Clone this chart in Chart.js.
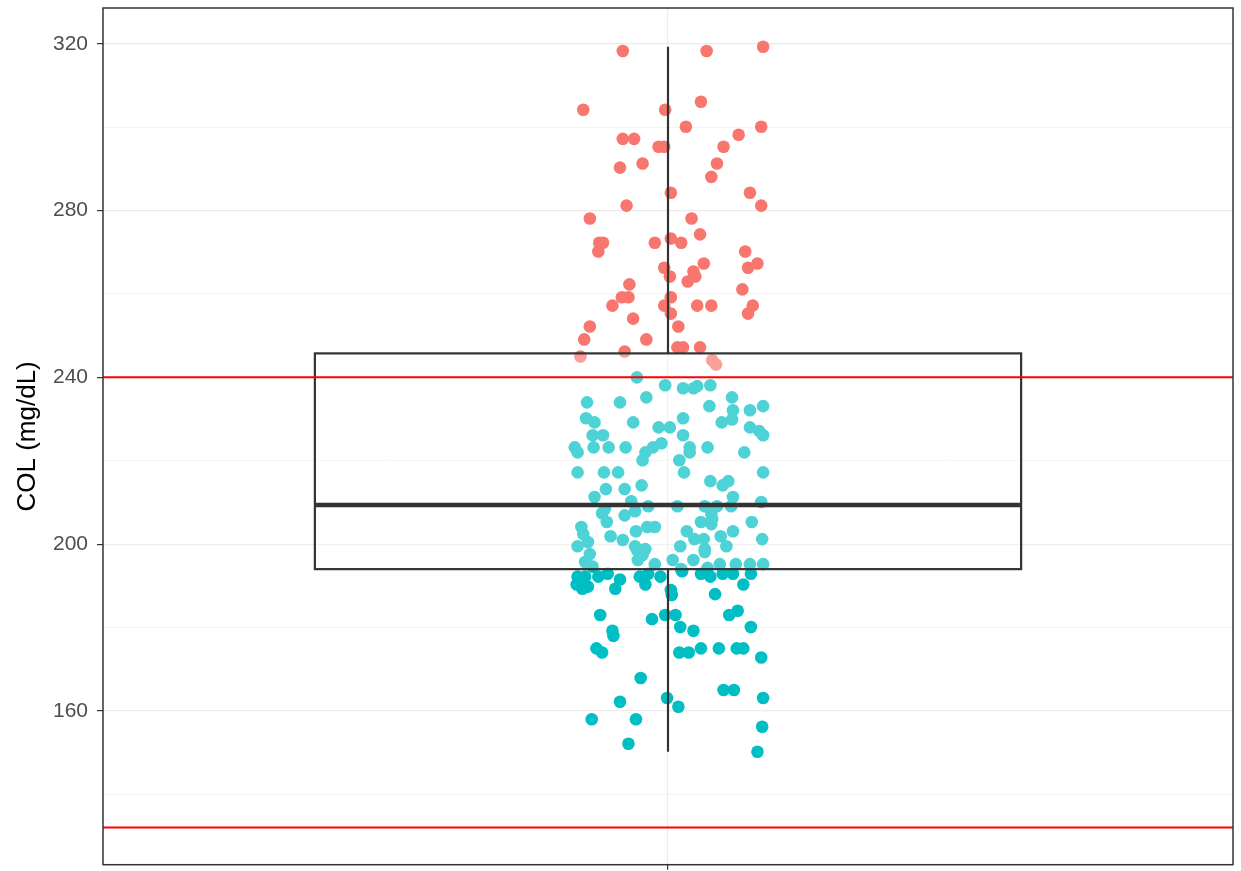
<!DOCTYPE html>
<html>
<head>
<meta charset="utf-8">
<script src="https://cdn.jsdelivr.net/npm/chart.js@4/dist/chart.umd.min.js"></script>
<style>
  html, body { margin: 0; padding: 0; background: #fff; }
  #wrap { width: 1241px; height: 871px; position: relative; }
</style>
</head>
<body>
<div id="wrap"><canvas id="chart"></canvas></div>
<script>
// jitter offset (in category units) and COL value for every point
const jitter = [
  -0.048, 0.041, 0.101, -0.090, -0.003, 0.035, 0.019, 0.099, -0.048, -0.036,
  -0.010, -0.004, 0.059, 0.075, -0.051, -0.027, 0.052, 0.046, 0.003, 0.087,
  -0.044, 0.099, -0.083, 0.025, 0.034, -0.073, -0.069, -0.074, -0.014, 0.003,
  0.014, 0.082, 0.038, 0.095, 0.085, -0.004, 0.027, 0.002, 0.021, 0.029,
  -0.041, -0.049, -0.042, -0.059, 0.003, -0.004, 0.003, 0.031, 0.046, 0.079,
  0.090, 0.085, -0.037, 0.011, -0.083, -0.089, -0.023, 0.010, 0.016, 0.034,
  -0.046, -0.093, 0.047, 0.051,
  // 194 - 240
  -0.033, -0.003, 0.016, 0.027, 0.031, 0.045, -0.023, 0.068, -0.086, -0.051,
  0.044, 0.069, 0.087, 0.101, -0.087, -0.078, -0.037, 0.016, 0.057, 0.068,
  -0.010, 0.002, 0.087, 0.097, 0.101, -0.080, -0.069, 0.016, -0.099, -0.096,
  -0.079, -0.063, -0.045, -0.024, -0.016, -0.007, 0.023, 0.023, 0.042, 0.081,
  -0.027, 0.012, -0.096, -0.068, -0.053, 0.017, 0.101, 0.045, 0.058, 0.064,
  -0.066, -0.046, -0.028, -0.078, 0.069, -0.039, 0.099, -0.070, -0.067, -0.035,
  -0.046, -0.021, -0.065, -0.092, -0.034, -0.022, -0.014, -0.061, -0.048, -0.090,
  -0.085, -0.096, -0.035, -0.024, 0.010, 0.039, 0.052, 0.067, 0.046, 0.035,
  0.046, 0.089, 0.020, 0.069, 0.056, 0.028, 0.038, 0.047, 0.100, 0.013,
  0.039, 0.062, -0.083, -0.088, -0.033, -0.027, -0.032, -0.014, 0.005, 0.027,
  0.039, 0.014, 0.042, 0.055, 0.072, 0.087, 0.101, -0.080,
  // below 194
  -0.096, -0.088, -0.097, -0.085, -0.091, -0.074, -0.064, -0.051, -0.056, -0.030,
  -0.021, -0.024, -0.008, 0.003, 0.004, 0.015, 0.035, 0.045, 0.058, 0.069,
  0.088, 0.080, 0.050, -0.072, -0.017, -0.003, 0.008, 0.065, 0.074, -0.059,
  0.013, 0.027, 0.088, -0.058, -0.076, -0.070, 0.012, 0.022, 0.035, 0.054,
  0.073, 0.080, 0.099, -0.029, 0.059, 0.070, -0.051, -0.001, 0.011, 0.101,
  -0.081, -0.034, 0.100, -0.042, 0.095
];
const colValues = [
  318.3, 318.3, 319.3, 304.2, 304.2, 306.1, 300.1, 300.1, 297.2, 297.2,
  295.3, 295.3, 295.3, 298.2, 290.3, 291.3, 291.3, 288.1, 284.3, 284.3,
  281.2, 281.2, 278.1, 278.1, 274.3, 272.3, 272.3, 270.2, 272.3, 273.3,
  272.3, 270.2, 267.3, 267.3, 266.3, 266.3, 265.4, 264.2, 263.0, 264.2,
  262.3, 259.2, 259.2, 257.2, 259.2, 257.2, 255.3, 257.2, 257.2, 261.1,
  257.2, 255.3, 254.1, 252.2, 252.2, 249.1, 249.1, 247.2, 247.2, 247.2,
  246.2, 245.0, 244.1, 243.1,
  240.0, 238.1, 237.4, 237.4, 237.9, 238.1, 235.2, 235.2, 234.0, 234.0,
  233.1, 232.1, 232.1, 233.1, 230.2, 229.2, 229.2, 230.2, 229.2, 229.9,
  228.0, 228.0, 228.0, 227.1, 226.1, 226.1, 226.1, 226.1, 223.2, 222.0,
  223.2, 223.2, 223.2, 222.0, 223.2, 224.2, 223.2, 222.0, 223.2, 222.0,
  220.1, 220.1, 217.2, 217.2, 217.2, 217.2, 217.2, 215.1, 214.1, 215.1,
  213.2, 213.2, 214.1, 211.3, 211.3, 210.3, 210.1, 207.4, 208.4, 207.9,
  206.9, 209.1, 205.3, 204.1, 203.1, 204.1, 204.1, 201.9, 201.0, 202.4,
  200.5, 199.5, 199.5, 198.8, 209.1, 209.1, 209.1, 209.1, 207.2, 205.3,
  204.8, 205.3, 203.1, 203.1, 201.9, 201.2, 201.2, 206.0, 201.2, 199.5,
  198.8, 199.5, 197.6, 195.7, 198.6, 197.4, 196.2, 195.2, 196.2, 196.2,
  198.1, 194.0, 194.3, 195.2, 195.2, 195.2, 195.2, 194.6,
  192.2, 192.2, 190.3, 189.8, 189.3, 192.2, 192.9, 191.5, 189.3, 192.2,
  192.9, 190.3, 192.2, 189.0, 187.8, 193.5, 192.9, 192.2, 192.9, 192.9,
  192.9, 190.3, 188.0, 183.0, 182.0, 183.0, 183.0, 183.0, 184.0, 179.2,
  180.1, 179.2, 180.1, 178.0, 175.0, 174.0, 174.0, 174.0, 175.0, 175.0,
  175.0, 175.0, 172.8, 167.9, 165.0, 165.0, 162.2, 163.1, 161.0, 163.1,
  158.0, 158.0, 156.2, 152.1, 150.2
];
const highCutoff = 240;

// box plot statistics
const boxLower = 150.2, boxQ1 = 194.0, boxMedian = 209.4, boxQ3 = 245.75, boxUpper = 319.3;
const boxCenter = 1, boxWidth = 0.75;

// horizontal reference lines
const refLines = [240, 132];

// axes
const yMin = 123.1, yMax = 328.6;
const yTicks = [140, 160, 180, 200, 220, 240, 260, 280, 300, 320];
const yLabeled = [160, 200, 240, 280, 320];

const high = [], normal = [];
colValues.forEach((v, i) => {
  const p = { x: boxCenter + jitter[i], y: v };
  (v > highCutoff ? high : normal).push(p);
});

const FONT = '"Liberation Sans", Arial, Helvetica, sans-serif';

// draw box, whiskers and reference lines above the points (ggplot layer order)
const boxPlugin = {
  id: 'boxLayer',
  afterDatasetsDraw(chart) {
    const { ctx, chartArea: a } = chart;
    const xs = chart.scales.x, ys = chart.scales.y;
    const xl = xs.getPixelForValue(boxCenter - boxWidth / 2);
    const xr = xs.getPixelForValue(boxCenter + boxWidth / 2);
    const xc = xs.getPixelForValue(boxCenter);
    const yq1 = ys.getPixelForValue(boxQ1), yq3 = ys.getPixelForValue(boxQ3);
    ctx.save();
    ctx.beginPath();
    ctx.rect(a.left, a.top, a.right - a.left, a.bottom - a.top);
    ctx.clip();
    ctx.strokeStyle = '#333333';
    ctx.lineWidth = 2.2;
    // whiskers
    ctx.beginPath();
    ctx.moveTo(xc, ys.getPixelForValue(boxUpper)); ctx.lineTo(xc, yq3);
    ctx.moveTo(xc, yq1); ctx.lineTo(xc, ys.getPixelForValue(boxLower));
    ctx.stroke();
    // box
    ctx.fillStyle = 'rgba(255,255,255,0.3)';
    ctx.fillRect(xl, yq3, xr - xl, yq1 - yq3);
    ctx.strokeRect(xl, yq3, xr - xl, yq1 - yq3);
    // median
    ctx.lineWidth = 4.5;
    ctx.beginPath();
    const ym = ys.getPixelForValue(boxMedian);
    ctx.moveTo(xl, ym); ctx.lineTo(xr, ym);
    ctx.stroke();
    // reference lines
    ctx.strokeStyle = '#FF0000';
    ctx.lineWidth = 2;
    refLines.forEach(v => {
      const y = ys.getPixelForValue(v);
      ctx.beginPath(); ctx.moveTo(a.left, y); ctx.lineTo(a.right, y); ctx.stroke();
    });
    ctx.restore();
  },
  afterDraw(chart) {
    const { ctx, chartArea: a } = chart;
    ctx.save();
    ctx.strokeStyle = '#333333';
    ctx.lineWidth = 1.5;
    ctx.strokeRect(a.left, a.top, a.right - a.left, a.bottom - a.top);
    ctx.restore();
  }
};

new Chart(document.getElementById('chart'), {
  type: 'scatter',
  data: {
    datasets: [
      { data: high, backgroundColor: '#F8766D', borderWidth: 0, pointRadius: 6.3, pointHoverRadius: 6.3 },
      { data: normal, backgroundColor: '#00BFC4', borderWidth: 0, pointRadius: 6.3, pointHoverRadius: 6.3 }
    ]
  },
  options: {
    responsive: true,
    maintainAspectRatio: false,
    devicePixelRatio: 1,
    animation: false,
    layout: { padding: { top: 8, right: 8, left: 0, bottom: 0 } },
    plugins: { legend: { display: false }, tooltip: { enabled: false } },
    scales: {
      x: {
        type: 'linear', min: 0.4, max: 1.6,
        afterBuildTicks: s => { s.ticks = [{ value: boxCenter }]; },
        afterFit: s => { s.height = 5; s.paddingLeft = 0; s.paddingRight = 0; },
        border: { display: false },
        grid: { color: '#EBEBEB', lineWidth: 1.2, tickColor: '#333333', tickLength: 5, tickWidth: 1.2 },
        ticks: { callback: () => '', padding: 0, font: { size: 1 } }
      },
      y: {
        min: yMin, max: yMax,
        afterBuildTicks: s => { s.ticks = yTicks.map(v => ({ value: v })); },
        afterFit: s => { s.width = 103; s.paddingTop = 0; s.paddingBottom = 0; },
        border: { display: false },
        grid: {
          color: '#EBEBEB',
          lineWidth: c => yLabeled.includes(c.tick.value) ? 1.2 : 0.6,
          tickColor: c => yLabeled.includes(c.tick.value) ? '#333333' : 'rgba(0,0,0,0)',
          tickLength: 6, tickWidth: 1.2
        },
        ticks: {
          autoSkip: false,
          callback: v => yLabeled.includes(v) ? String(v) : '',
          color: '#4D4D4D', padding: 9,
          font: { family: FONT, size: 21 }
        },
        title: {
          display: true, text: 'COL (mg/dL)', color: '#000000',
          font: { family: FONT, size: 26 },
          padding: { top: 12, bottom: 0 }
        }
      }
    }
  },
  plugins: [boxPlugin]
});
</script>
</body>
</html>
